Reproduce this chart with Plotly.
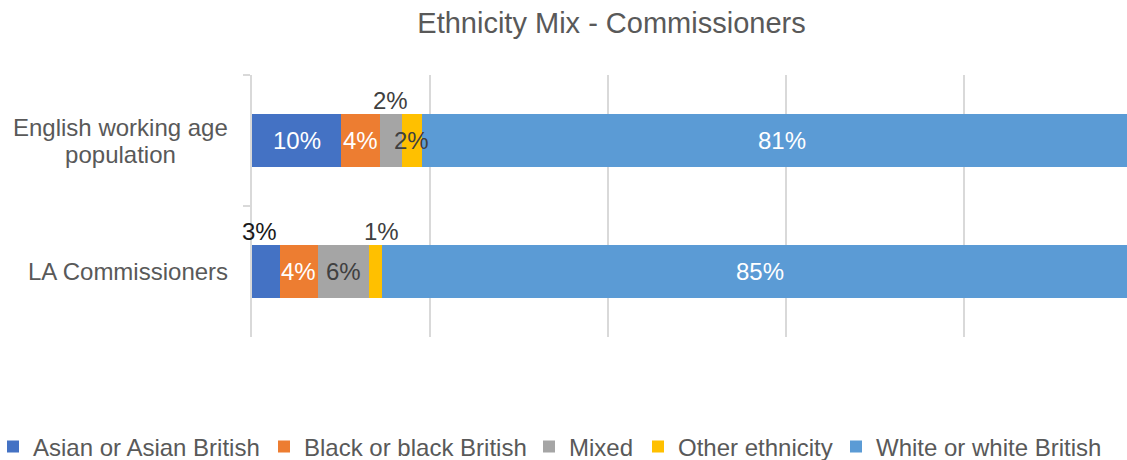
import plotly.graph_objects as go

# ---- data ----
categories = ["English working age population", "LA Commissioners"]
category_label_lines = [["English working age", "population"], ["LA Commissioners"]]
series_names = ["Asian or Asian British", "Black or black British", "Mixed",
                "Other ethnicity", "White or white British"]
asian = [0.100, 0.031]
black = [0.044, 0.043]
mixed = [0.024, 0.058]
other = [0.023, 0.014]
white = [0.810, 0.850]

series_values = [asian, black, mixed, other, white]
colors = ["#4472C4", "#ED7D31", "#A5A5A5", "#FFC000", "#5B9BD5"]

# ---- styling / placement (not data) ----
placement = [["in", "in", "up", "in", "in"],
             ["up", "in", "in", "up", "in"]]
label_xshift = [[0, 0, 0, 0, 0],
                [-6, 0, 0, 6, 0]]
inside_text_color = ["#FFFFFF", "#FFFFFF", "#404040", "#404040", "#FFFFFF"]
legend_item_widths = [226, 220, 64, 153, 222]

FONT = "Liberation Sans, Arial, sans-serif"
GREY_TXT = "#595959"
LINE_H = 27

fig = go.Figure()
for name, vals, col, lw in zip(series_names, series_values, colors, legend_item_widths):
    fig.add_trace(go.Bar(
        y=categories, x=vals, name=name, orientation="h",
        marker=dict(color=col, line=dict(width=0)),
        hoverinfo="x+name", legendwidth=lw,
    ))

annotations = []
for ci, cat in enumerate(categories):
    base = 0.0
    for si, vals in enumerate(series_values):
        v = vals[ci]
        center = base + v / 2
        base += v
        txt = f"{v * 100:.0f}%"
        if placement[ci][si] == "in":
            annotations.append(dict(
                x=center, y=ci, xref="x", yref="y", text=txt, showarrow=False,
                xanchor="center", yanchor="middle",
                font=dict(family=FONT, size=24, color=inside_text_color[si]),
            ))
        else:
            annotations.append(dict(
                x=center, y=ci, xref="x", yref="y", text=txt, showarrow=False,
                xanchor="center", yanchor="middle", yshift=40,
                xshift=label_xshift[ci][si],
                font=dict(family=FONT, size=24,
                          color="#1A1A1A" if si == 0 else "#404040"),
            ))

# category labels: block right-aligned, wrapped lines centred in the block
for ci, lines in enumerate(category_label_lines):
    n = len(lines)
    for li, line in enumerate(lines):
        ann = dict(
            x=-22 / 875, y=ci, xref="paper", yref="y", text=line,
            showarrow=False, xanchor="right", yanchor="middle",
            align="center", yshift=((n - 1) / 2 - li) * LINE_H,
            font=dict(family=FONT, size=24, color=GREY_TXT),
        )
        if li > 0:
            ann["width"] = 215
        annotations.append(ann)

fig.update_layout(
    width=1127, height=460,
    margin=dict(l=252, r=0, t=75, b=123, pad=0, autoexpand=False),
    paper_bgcolor="white", plot_bgcolor="white",
    barmode="stack", bargap=0.6,
    font=dict(family=FONT, size=24, color=GREY_TXT),
    title=dict(text="Ethnicity Mix - Commissioners", x=611.5 / 1127,
               xref="container", xanchor="center", y=1 - 23 / 460,
               yref="container", yanchor="middle",
               font=dict(family=FONT, size=29, color=GREY_TXT)),
    xaxis=dict(range=[0, 875 / 890], showticklabels=False, showgrid=True,
               gridcolor="#D9D9D9", gridwidth=1.5, dtick=0.2, tick0=0,
               zeroline=False, showline=False, fixedrange=True),
    yaxis=dict(type="category", categoryarray=categories,
               range=[1.5, -0.5], showline=True, linecolor="#D9D9D9",
               linewidth=1.5, ticks="outside", tickson="boundaries",
               ticklen=7, tickcolor="#D9D9D9", tickwidth=1.5,
               showticklabels=False, showgrid=False, fixedrange=True),
    legend=dict(orientation="h", x=-259 / 875, xanchor="left",
                y=-110 / 262, yanchor="middle", traceorder="normal",
                font=dict(family=FONT, size=24, color=GREY_TXT),
                bgcolor="rgba(0,0,0,0)"),
    annotations=annotations,
    showlegend=True,
)

fig.write_html(
    "out.html",
    config={"displayModeBar": False},
    post_script="document.body.style.margin='0';"
                "document.body.style.overflow='hidden';",
)
